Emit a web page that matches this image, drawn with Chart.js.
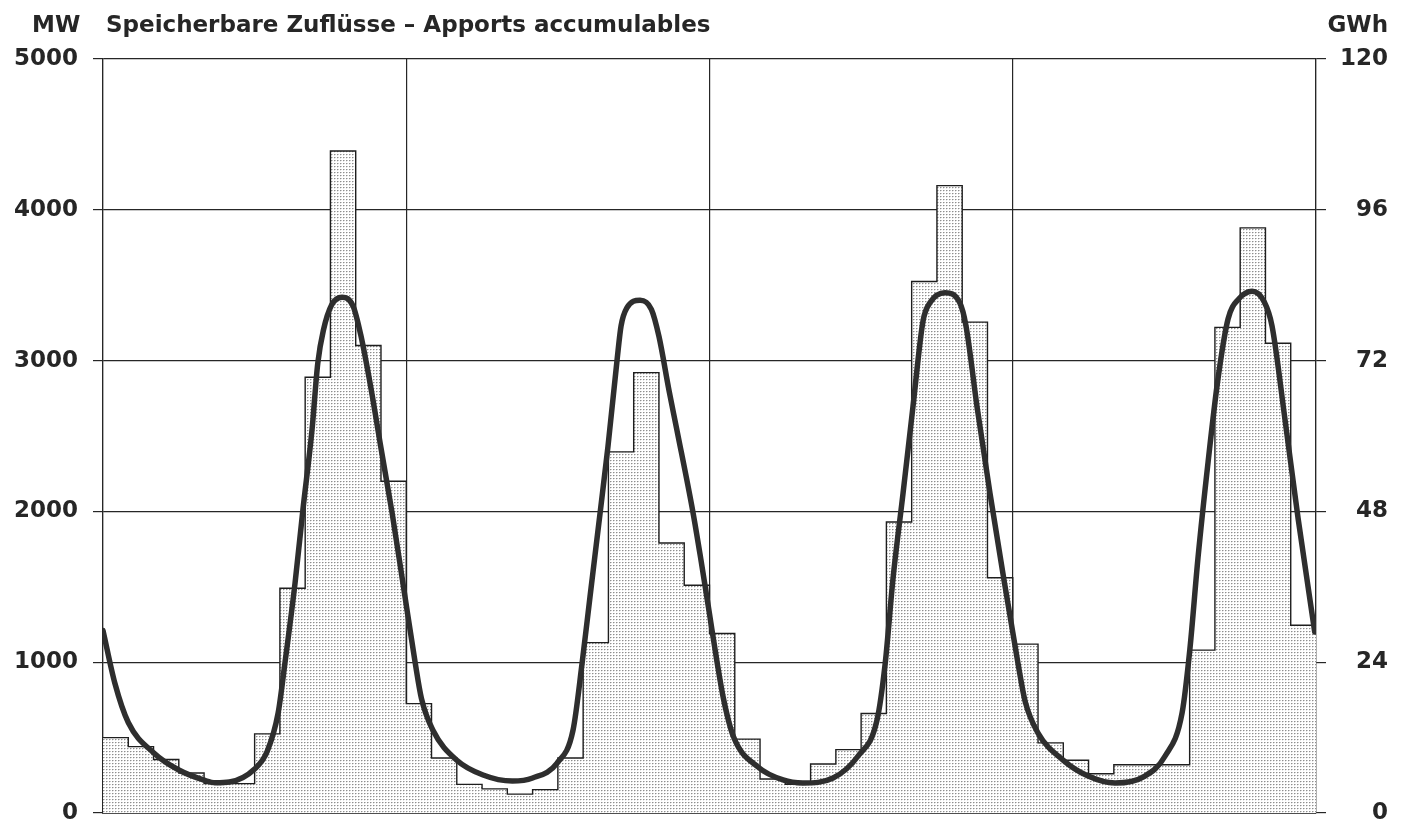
<!DOCTYPE html>
<html>
<head>
<meta charset="utf-8">
<script src="https://cdn.jsdelivr.net/npm/chart.js@4.4.1/dist/chart.umd.min.js"></script>
<style>
  html, body { margin: 0; padding: 0; background: #fff; }
</style>
</head>
<body>
<canvas id="inflowChart" width="1407" height="827"></canvas>
<script>
// monthly storable inflows (MW), four years of twelve months
const inflowYear1 = [500, 440, 355, 265, 195, 195, 525, 1490, 2890, 4390, 3100, 2200];
const inflowYear2 = [725, 365, 190, 160, 125, 155, 365, 1130, 2395, 2920, 1790, 1510];
const inflowYear3 = [1190, 490, 225, 190, 325, 420, 660, 1930, 3525, 4160, 3255, 1560];
const inflowYear4 = [1120, 465, 350, 260, 320, 320, 320, 1080, 3220, 3880, 3115, 1245];

// smoothed mean curve: position in months (0..48) and MW
const curveMonth = [
  0, 0.47, 1, 2, 3, 4, 4.45, 5, 6, 6.5, 6.93, 7.2, 7.6, 7.91, 8.27, 8.5, 8.72, 9.05, 9.46, 9.9,
  10.2, 10.6, 11.0, 11.44, 11.9, 12.35, 12.6, 13.05, 14, 15.04, 16.2, 17, 17.97, 18.6, 18.96,
  19.27, 19.67, 19.98, 20.34, 20.5, 20.73, 21.25, 21.7, 22.0, 22.4, 22.71, 23.35, 23.66, 24, 24.3,
  24.55, 24.95, 25.92, 26.91, 27.7, 28.89, 29.88, 30.63, 30.95, 31.26, 31.66, 32.05, 32.45, 32.73,
  33.32, 33.9, 34.15, 34.59, 35.1, 35.6, 36.2, 36.49, 37, 37.99, 38.98, 40.05, 41.23, 42.03, 42.7,
  43.01, 43.33, 43.73, 44.12, 44.52, 44.95, 45.47, 45.95, 46.26, 46.77, 47.29, 47.95
];
const curveMW = [
  1210, 860, 600, 400, 285, 218, 200, 205, 292, 410, 663, 995, 1525, 2009, 2540, 2984, 3200, 3370, 3420, 3360,
  3170, 2820, 2420, 1990, 1490, 1000, 760, 550, 350, 252, 212, 232, 331, 550, 995,
  1432, 1989, 2427, 3000, 3230, 3350, 3400, 3340, 3160, 2800, 2540, 1990, 1680, 1320, 1000,
  760, 505, 305, 219, 199, 232, 378, 617, 988, 1552, 2122, 2692, 3263, 3385,
  3450, 3385, 3230, 2690, 2120, 1600, 1000, 740, 530, 351, 245, 199, 245, 378, 663,
  1088, 1691, 2328, 2878, 3276, 3410, 3460, 3390, 3230, 2613, 1956, 1200
];

const yearTicks = [0, 12, 24, 36, 48];
const mwTicks = [0, 1000, 2000, 3000, 4000, 5000];
const gwhTicks = [0, 24, 48, 72, 96, 120];

const inflows = [].concat(inflowYear1, inflowYear2, inflowYear3, inflowYear4);
// stepped outline: each value holds for one month, closing point at the end
const stepPoints = inflows.map((v, i) => ({ x: i, y: v }));
stepPoints.push({ x: inflows.length, y: inflows[inflows.length - 1] });
const curvePoints = curveMonth.map((m, i) => ({ x: m, y: curveMW[i] }));

// stippled fill like the printed screen
function makeDots() {
  const c = document.createElement('canvas');
  c.width = 3; c.height = 3;
  const g = c.getContext('2d');
  g.fillStyle = '#ffffff';
  g.fillRect(0, 0, 3, 3);
  g.fillStyle = '#8e8e8e';
  g.fillRect(1, 1, 1, 1);
  g.fillStyle = '#cacaca';
  g.fillRect(2, 1, 1, 1);
  g.fillStyle = '#e6e6e6';
  g.fillRect(1, 2, 1, 1);
  return g.createPattern(c, 'repeat');
}

const ink = '#262626';
const labelFont = { family: 'DejaVu Sans', size: 23, weight: 'bold' };
const plainNumber = (v) => String(v);

// fixed axis box sizes, no extra room for label overflow
function fixWidth(w) {
  return (s) => {
    s.width = w;
    s.paddingTop = 0;
    s.paddingBottom = 0;
  };
}

const headerPlugin = {
  id: 'header',
  afterDraw(chart) {
    const ctx = chart.ctx;
    ctx.save();
    ctx.fillStyle = ink;
    ctx.font = 'bold 23px "DejaVu Sans"';
    ctx.textBaseline = 'alphabetic';
    ctx.textAlign = 'left';
    ctx.fillText('MW', 32, 32);
    ctx.fillText('Speicherbare Zuflüsse – Apports accumulables', 106, 32);
    ctx.textAlign = 'right';
    ctx.fillText('GWh', 1388, 32);
    ctx.restore();
  }
};

Chart.defaults.font.family = 'DejaVu Sans';

new Chart(document.getElementById('inflowChart'), {
  type: 'line',
  data: {
    datasets: [
      {
        label: 'Kurve',
        data: curvePoints,
        borderColor: '#2e2e2e',
        borderWidth: 5.5,
        borderCapStyle: 'round',
        borderJoinStyle: 'round',
        cubicInterpolationMode: 'monotone',
        pointRadius: 0,
        fill: false,
        order: 1
      },
      {
        label: 'Monatswerte',
        data: stepPoints,
        stepped: true,
        borderColor: '#1e1e1e',
        borderWidth: 1.4,
        backgroundColor: makeDots(),
        fill: 'origin',
        pointRadius: 0,
        order: 2
      }
    ]
  },
  options: {
    responsive: false,
    animation: false,
    devicePixelRatio: 1,
    layout: { padding: { top: 59, bottom: 14, left: 0, right: 19 } },
    plugins: {
      legend: { display: false },
      tooltip: { enabled: false }
    },
    scales: {
      x: {
        type: 'linear',
        min: 0,
        max: 48,
        afterBuildTicks: (s) => { s.ticks = yearTicks.map(v => ({ value: v })); },
        afterFit: (s) => { s.height = 0; },
        ticks: { display: false },
        grid: { color: ink, lineWidth: 1.2, drawTicks: false },
        border: { display: true, color: ink, width: 1.8 }
      },
      y: {
        position: 'left',
        min: 0,
        max: 5000,
        afterBuildTicks: (s) => { s.ticks = mwTicks.map(v => ({ value: v })); },
        afterFit: fixWidth(103),
        ticks: { color: ink, font: labelFont, padding: 15, callback: plainNumber },
        grid: { color: ink, lineWidth: 1.2, tickLength: 10 },
        border: { display: true, color: ink, width: 1.2 }
      },
      y2: {
        position: 'right',
        min: 0,
        max: 120,
        afterBuildTicks: (s) => { s.ticks = gwhTicks.map(v => ({ value: v })); },
        afterFit: fixWidth(72),
        ticks: { color: ink, font: labelFont, padding: 14, crossAlign: 'far', callback: plainNumber },
        grid: { color: ink, lineWidth: 1.2, tickLength: 10, drawOnChartArea: false },
        border: { display: true, color: ink, width: 1.2 }
      }
    }
  },
  plugins: [headerPlugin]
});
</script>
</body>
</html>
